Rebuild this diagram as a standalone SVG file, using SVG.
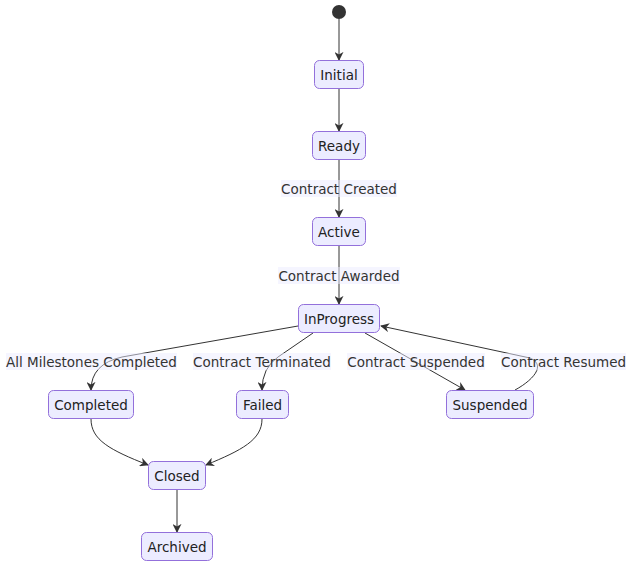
<svg xmlns="http://www.w3.org/2000/svg" width="640" height="574" viewBox="0 0 640 574">
<style>
.node rect{fill:#ECECFF;stroke:#9370DB;stroke-width:1}
.node text{font-family:"DejaVu Sans",sans-serif;font-size:13.5px;fill:#222;text-anchor:middle;dominant-baseline:central}
.edge{fill:none;stroke:#333;stroke-width:1;marker-end:url(#arr)}
.lbl rect{fill:#ECECFF;fill-opacity:0.5;stroke:none}
.lbl text{font-family:"DejaVu Sans",sans-serif;font-size:13.5px;fill:#333;text-anchor:middle;dominant-baseline:central}
</style>
<defs>
<marker id="arr" viewBox="0 0 10 10" refX="9" refY="5" markerWidth="9" markerHeight="9" orient="auto" markerUnits="userSpaceOnUse">
<path d="M0,0 L10,5 L0,10 L3,5 z" fill="#333"/>
</marker>
</defs>
<g id="connectors">
<path class="edge" d="M339,19 L339,60"/>
<path class="edge" d="M339,89 L339,131"/>
<path class="edge" d="M339,160 L339,217"/>
<path class="edge" d="M339,246 L339,304"/>
<path class="edge" d="M298,326 L122,357 Q91,364 91,390"/>
<path class="edge" d="M313,333 L278,357 Q262,368 262,390"/>
<path class="edge" d="M365,333 L465,390"/>
<path class="edge" d="M515,390 C530,382 548,366 530,358 L381,326"/>
<path class="edge" d="M91,419 C91,440 110,450 148,465"/>
<path class="edge" d="M262,419 C262,440 242,450 206,465"/>
<path class="edge" d="M177,490 L177,532"/>
</g>
<g id="labels">
<g class="lbl"><rect x="281" y="180" width="116" height="17"/><text x="339" y="188.5">Contract Created</text></g>
<g class="lbl"><rect x="278" y="267" width="122" height="17"/><text x="339" y="275.5">Contract Awarded</text></g>
<g class="lbl"><rect x="6" y="353" width="171" height="17"/><text x="91.5" y="361.5">All Milestones Completed</text></g>
<g class="lbl"><rect x="193" y="353" width="138" height="17"/><text x="262" y="361.5">Contract Terminated</text></g>
<g class="lbl"><rect x="347" y="353" width="138" height="17"/><text x="416" y="361.5">Contract Suspended</text></g>
<g class="lbl"><rect x="501" y="353" width="125" height="17"/><text x="563.5" y="361.5">Contract Resumed</text></g>
</g>
<g id="start"><circle cx="339" cy="12" r="7" fill="#333"/></g>
<g id="Initial" class="node"><rect x="314.5" y="60.5" width="49" height="28" rx="5"/><text x="339" y="75">Initial</text></g>
<g id="Ready" class="node"><rect x="312.5" y="131.5" width="53" height="28" rx="5"/><text x="339" y="146">Ready</text></g>
<g id="Active" class="node"><rect x="312.5" y="217.5" width="53" height="28" rx="5"/><text x="339" y="232">Active</text></g>
<g id="InProgress" class="node"><rect x="298.5" y="304.5" width="81" height="28" rx="5"/><text x="339" y="319">InProgress</text></g>
<g id="Completed" class="node"><rect x="48.5" y="390.5" width="85" height="28" rx="5"/><text x="91" y="405">Completed</text></g>
<g id="Failed" class="node"><rect x="236.5" y="390.5" width="52" height="28" rx="5"/><text x="262.5" y="405">Failed</text></g>
<g id="Suspended" class="node"><rect x="446.5" y="390.5" width="87" height="28" rx="5"/><text x="490" y="405">Suspended</text></g>
<g id="Closed" class="node"><rect x="148.5" y="461.5" width="57" height="28" rx="5"/><text x="177" y="476">Closed</text></g>
<g id="Archived" class="node"><rect x="141.5" y="532.5" width="71" height="28" rx="5"/><text x="177" y="547">Archived</text></g>
</svg>
